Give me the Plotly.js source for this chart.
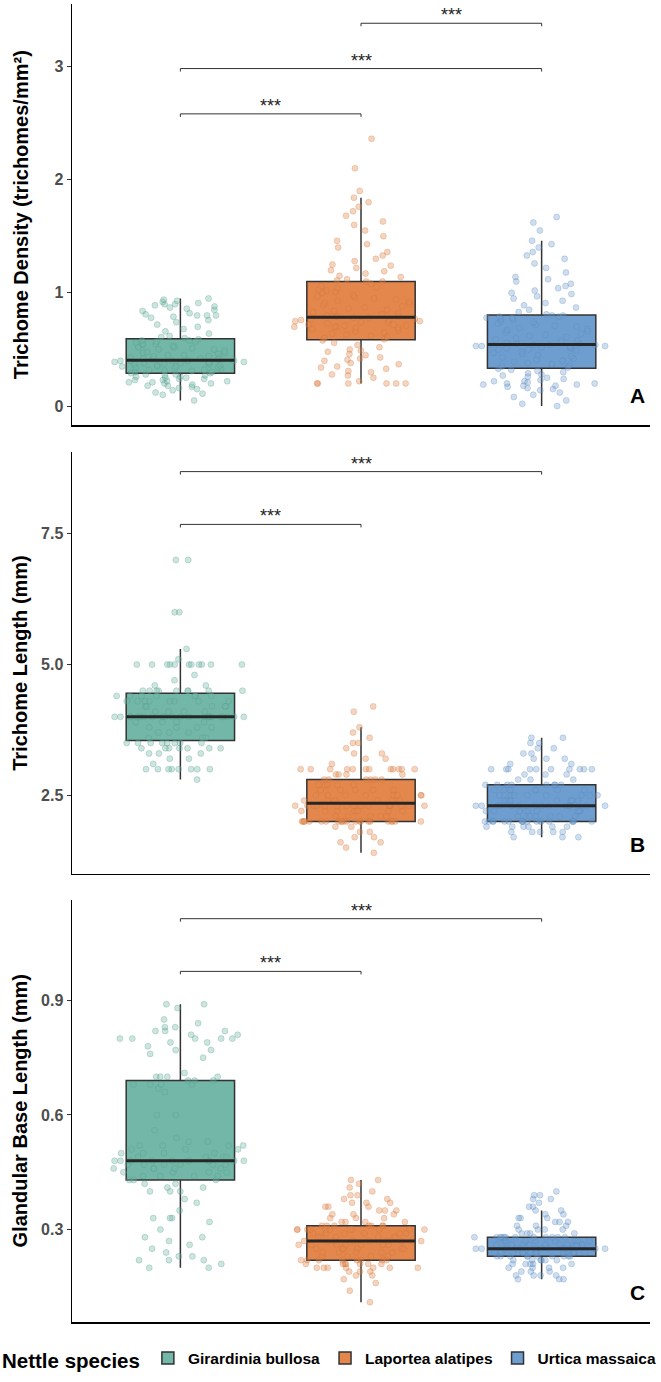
<!DOCTYPE html>
<html>
<head>
<meta charset="utf-8">
<script src="https://cdn.plot.ly/plotly-3.0.1.min.js"></script>
<style>html,body{margin:0;padding:0;background:#fff;}#chart{width:661px;height:1382px;}</style>
</head>
<body>
<div id="chart"></div>
<script>
// ---------- DATA ----------
const species = ["Girardinia bullosa", "Laportea alatipes", "Urtica massaica"];
const panelTitles = ["Trichome Density (trichomes/mm²)", "Trichome Length (mm)", "Glandular Base Length (mm)"];
const panelLetters = ["A", "B", "C"];

// Panel A: trichome density (trichomes/mm²)
const densityGirardinia = [0.05,0.10,0.11,0.12,0.14,0.15,0.16,0.17,0.18,0.18,0.19,0.20,0.20,0.21,0.21,0.22,0.22,0.23,0.23,0.24,0.24,0.25,0.25,0.26,0.26,0.27,0.27,0.28,0.28,0.29,
 0.29,0.30,0.30,0.31,0.31,0.32,0.32,0.33,0.33,0.34,0.34,0.35,0.35,0.35,0.36,0.36,0.37,0.37,0.37,0.38,0.38,0.38,0.39,0.39,0.39,0.40,0.40,0.40,0.40,0.40,
 0.41,0.41,0.42,0.42,0.43,0.43,0.44,0.44,0.45,0.45,0.46,0.47,0.47,0.48,0.49,0.50,0.50,0.51,0.52,0.52,0.53,0.54,0.55,0.55,0.56,0.57,0.57,0.58,0.58,0.59,
 0.60,0.61,0.62,0.64,0.66,0.68,0.70,0.72,0.74,0.76,0.78,0.79,0.80,0.80,0.80,0.81,0.82,0.84,0.85,0.86,0.87,0.88,0.89,0.90,0.90,0.91,0.92,0.93,0.94,0.95];
const densityLaportea = [0.20,0.20,0.20,0.20,0.20,0.20,0.22,0.25,0.27,0.28,0.30,0.31,0.33,0.34,0.35,0.37,0.38,0.40,0.41,0.42,0.43,0.45,0.46,0.48,0.49,0.50,0.52,0.54,0.56,0.58,
 0.59,0.60,0.61,0.62,0.63,0.64,0.65,0.66,0.67,0.68,0.69,0.69,0.70,0.70,0.70,0.71,0.71,0.72,0.72,0.73,0.74,0.74,0.75,0.75,0.76,0.76,0.77,0.77,0.78,0.78,
 0.79,0.79,0.80,0.81,0.82,0.83,0.84,0.85,0.86,0.87,0.88,0.89,0.90,0.91,0.92,0.93,0.94,0.95,0.96,0.97,0.98,1.00,1.01,1.02,1.03,1.04,1.05,1.06,1.08,1.10,
 1.10,1.11,1.12,1.14,1.15,1.17,1.19,1.20,1.22,1.24,1.25,1.28,1.30,1.33,1.36,1.40,1.43,1.46,1.50,1.55,1.60,1.63,1.68,1.72,1.76,1.80,1.84,1.90,2.10,2.36];
const densityUrtica = [0.00,0.02,0.05,0.08,0.10,0.12,0.14,0.15,0.16,0.17,0.18,0.18,0.19,0.19,0.20,0.20,0.21,0.22,0.22,0.23,0.24,0.25,0.26,0.27,0.28,0.29,0.30,0.31,0.32,0.33,
 0.34,0.35,0.36,0.37,0.38,0.39,0.40,0.41,0.42,0.43,0.44,0.45,0.46,0.47,0.48,0.49,0.50,0.50,0.51,0.51,0.52,0.52,0.53,0.53,0.53,0.53,0.54,0.54,0.54,0.54,
 0.55,0.55,0.56,0.57,0.58,0.59,0.60,0.61,0.62,0.63,0.64,0.65,0.66,0.67,0.68,0.69,0.70,0.71,0.72,0.73,0.74,0.75,0.76,0.77,0.78,0.78,0.79,0.79,0.80,0.80,
 0.81,0.83,0.85,0.87,0.89,0.91,0.93,0.95,0.97,0.99,1.00,1.02,1.04,1.06,1.08,1.10,1.12,1.14,1.18,1.22,1.26,1.30,1.33,1.36,1.40,1.43,1.46,1.55,1.62,1.67];

// Panel B: trichome length (mm)
const lengthGirardinia = [2.8,3.0,3.0,3.0,3.0,3.0,3.0,3.0,3.0,3.1,3.2,3.2,3.3,3.3,3.3,3.4,3.4,3.4,3.4,3.4,3.4,3.4,3.5,3.5,3.5,3.5,3.5,3.5,3.5,3.5,
 3.6,3.6,3.6,3.7,3.7,3.7,3.8,3.8,3.8,3.8,3.9,3.9,3.9,3.9,4.0,4.0,4.0,4.0,4.0,4.0,4.0,4.0,4.0,4.0,4.0,4.0,4.0,4.0,4.0,4.0,
 4.0,4.0,4.0,4.0,4.0,4.0,4.1,4.1,4.1,4.1,4.2,4.2,4.2,4.2,4.2,4.3,4.3,4.3,4.3,4.3,4.3,4.3,4.3,4.4,4.4,4.4,4.4,4.4,4.4,4.4,
 4.5,4.5,4.5,4.5,4.5,4.5,4.5,4.5,4.5,4.6,4.6,4.7,4.8,5.0,5.0,5.0,5.0,5.0,5.0,5.0,5.0,5.0,5.0,5.0,5.1,5.3,6.0,6.0,7.0,7.0];
const lengthLaportea = [1.4,1.5,1.6,1.6,1.7,1.7,1.8,1.8,1.9,1.9,2.0,2.0,2.0,2.0,2.0,2.0,2.0,2.0,2.0,2.0,2.0,2.0,2.0,2.0,2.0,2.0,2.0,2.0,2.0,2.0,
 2.0,2.0,2.1,2.1,2.1,2.1,2.1,2.2,2.2,2.2,2.2,2.2,2.2,2.2,2.3,2.3,2.3,2.3,2.3,2.3,2.3,2.3,2.3,2.3,2.3,2.3,2.3,2.3,2.3,2.3,
 2.4,2.4,2.4,2.4,2.4,2.4,2.4,2.5,2.5,2.5,2.5,2.5,2.5,2.5,2.5,2.6,2.6,2.6,2.6,2.6,2.7,2.7,2.7,2.7,2.7,2.8,2.8,2.8,2.8,2.8,
 2.8,2.9,2.9,2.9,2.9,3.0,3.0,3.0,3.0,3.0,3.0,3.0,3.0,3.0,3.0,3.0,3.0,3.1,3.2,3.2,3.3,3.3,3.4,3.5,3.5,3.6,3.7,3.8,4.1,4.2];
const lengthUrtica = [1.7,1.7,1.7,1.8,1.8,1.8,1.8,1.8,1.9,1.9,1.9,1.9,1.9,1.9,2.0,2.0,2.0,2.0,2.0,2.0,2.0,2.0,2.0,2.0,2.0,2.0,2.0,2.0,2.0,2.0,
 2.0,2.0,2.1,2.1,2.1,2.1,2.1,2.1,2.2,2.2,2.2,2.2,2.2,2.2,2.2,2.2,2.2,2.3,2.3,2.3,2.3,2.3,2.3,2.3,2.3,2.3,2.3,2.3,2.3,2.3,
 2.3,2.4,2.4,2.4,2.4,2.4,2.4,2.4,2.5,2.5,2.5,2.5,2.5,2.5,2.5,2.5,2.6,2.6,2.6,2.6,2.6,2.6,2.6,2.7,2.7,2.7,2.7,2.7,2.7,2.7,
 2.7,2.8,2.8,2.8,2.9,2.9,2.9,3.0,3.0,3.0,3.0,3.0,3.0,3.0,3.0,3.0,3.0,3.1,3.1,3.2,3.2,3.2,3.3,3.3,3.4,3.4,3.5,3.5,3.6,3.6];

// Panel C: glandular base length (mm)
const glandGirardinia = [0.20,0.20,0.21,0.22,0.22,0.22,0.23,0.23,0.24,0.25,0.26,0.27,0.28,0.28,0.30,0.32,0.33,0.33,0.33,0.35,0.37,0.38,0.40,0.40,0.40,0.41,0.41,0.42,0.42,0.43,
 0.43,0.43,0.44,0.44,0.44,0.44,0.45,0.45,0.45,0.45,0.46,0.46,0.46,0.46,0.46,0.47,0.47,0.47,0.47,0.47,0.47,0.48,0.48,0.48,0.48,0.48,0.48,0.48,0.48,0.48,
 0.48,0.49,0.49,0.49,0.49,0.50,0.50,0.50,0.50,0.51,0.51,0.51,0.52,0.52,0.52,0.52,0.53,0.53,0.54,0.56,0.60,0.60,0.66,0.67,0.68,0.68,0.68,0.68,0.69,0.69,
 0.69,0.70,0.70,0.70,0.70,0.71,0.75,0.76,0.77,0.77,0.78,0.79,0.79,0.80,0.80,0.80,0.80,0.80,0.81,0.81,0.82,0.82,0.82,0.83,0.83,0.84,0.85,0.88,0.89,0.89];
const glandLaportea = [0.11,0.14,0.16,0.17,0.18,0.18,0.19,0.19,0.19,0.20,0.20,0.20,0.20,0.20,0.20,0.20,0.21,0.21,0.21,0.21,0.21,0.21,0.21,0.22,0.22,0.22,0.22,0.22,0.22,0.22,
 0.22,0.23,0.23,0.23,0.23,0.24,0.24,0.24,0.24,0.24,0.25,0.25,0.25,0.25,0.25,0.25,0.26,0.26,0.26,0.26,0.26,0.26,0.26,0.27,0.27,0.27,0.27,0.27,0.27,0.27,
 0.27,0.27,0.28,0.28,0.28,0.28,0.28,0.28,0.29,0.29,0.29,0.29,0.29,0.29,0.30,0.30,0.30,0.30,0.30,0.30,0.30,0.30,0.30,0.30,0.30,0.31,0.31,0.31,0.31,0.31,
 0.31,0.31,0.32,0.32,0.32,0.32,0.33,0.33,0.33,0.34,0.34,0.34,0.35,0.35,0.35,0.36,0.36,0.36,0.37,0.37,0.37,0.38,0.38,0.39,0.39,0.40,0.41,0.42,0.43,0.43];
const glandUrtica = [0.17,0.17,0.17,0.18,0.18,0.18,0.18,0.19,0.19,0.19,0.20,0.20,0.20,0.20,0.21,0.21,0.21,0.21,0.21,0.22,0.22,0.22,0.22,0.22,0.22,0.23,0.23,0.23,0.23,0.23,
 0.23,0.23,0.23,0.23,0.23,0.24,0.24,0.24,0.24,0.24,0.24,0.24,0.24,0.24,0.24,0.24,0.24,0.25,0.25,0.25,0.25,0.25,0.25,0.25,0.25,0.25,0.25,0.25,0.25,0.25,
 0.25,0.25,0.26,0.26,0.26,0.26,0.26,0.26,0.26,0.26,0.26,0.27,0.27,0.27,0.27,0.27,0.27,0.27,0.27,0.28,0.28,0.28,0.28,0.28,0.28,0.28,0.28,0.28,0.28,0.28,
 0.28,0.29,0.29,0.29,0.29,0.30,0.30,0.30,0.30,0.31,0.31,0.31,0.32,0.32,0.32,0.33,0.33,0.33,0.34,0.34,0.35,0.35,0.36,0.36,0.37,0.38,0.38,0.39,0.39,0.40];

// Significance brackets: panel index, from species index, to species index, height, label
const sigPanel = [0, 0, 0, 1, 1, 2, 2];
const sigFrom  = [0, 0, 1, 0, 0, 0, 0];
const sigTo    = [1, 2, 2, 1, 2, 1, 2];
const sigY     = [2.58, 2.98, 3.38, 7.68, 8.69, 0.976, 1.114];
const sigLabel = ["***", "***", "***", "***", "***", "***", "***"];

// ---------- STYLE ----------
const panelData = [
  [densityGirardinia, densityLaportea, densityUrtica],
  [lengthGirardinia, lengthLaportea, lengthUrtica],
  [glandGirardinia, glandLaportea, glandUrtica]
];
const boxFill = ["#72B7A7", "#E4874C", "#6E9ECF"];
const pointFill = ["rgba(114,183,167,0.36)", "rgba(228,135,76,0.36)", "rgba(110,158,207,0.34)"];
const pointLine = ["rgba(80,150,134,0.35)", "rgba(200,110,60,0.30)", "rgba(85,130,180,0.32)"];
const yRanges = [[-0.17, 3.55], [1.0, 9.06], [0.058, 1.164]];
const yDomains = [[0.6803, 1], [0.3401, 0.6599], [0, 0.3205]];
const yTicks = [[0, 1, 2, 3], [2.5, 5.0, 7.5], [0.3, 0.6, 0.9]];
const yFormats = ["d", ".1f", ".1f"];
const FONT = "Liberation Sans, Arial, Helvetica, sans-serif";
const BOXW = 0.6;

function median(arr) {
  const s = arr.slice().sort((a, b) => a - b);
  const n = s.length;
  return n % 2 ? s[(n - 1) / 2] : (s[n / 2 - 1] + s[n / 2]) / 2;
}

const traces = [];
const shapes = [];
const annotations = [];
const layout = {
  width: 661, height: 1382,
  margin: {l: 68, r: 11, t: 4, b: 55},
  paper_bgcolor: "#fff", plot_bgcolor: "#fff",
  font: {family: FONT, color: "#000"},
  boxmode: "overlay",
  showlegend: true,
  legend: {
    orientation: "h", x: -0.1186, xanchor: "left", y: -0.0287, yanchor: "middle",
    title: {text: "Nettle species", font: {size: 20.5, weight: "bold", color: "#000"}, side: "left"},
    font: {size: 15.5, weight: "bold", color: "#000"},
    itemwidth: 30, bgcolor: "rgba(0,0,0,0)", traceorder: "normal"
  }
};

for (let p = 0; p < 3; p++) {
  const sfx = p === 0 ? "" : String(p + 1);
  const xa = "x" + sfx, ya = "y" + sfx;
  layout["xaxis" + sfx] = {
    anchor: ya, domain: [0, 1], type: "category", categoryorder: "array", categoryarray: species,
    range: [-0.6, 2.6], showticklabels: false, ticks: "", showgrid: false, zeroline: false,
    showline: true, linecolor: "#000", linewidth: 1.5, fixedrange: true
  };
  layout["yaxis" + sfx] = {
    anchor: xa, domain: yDomains[p], range: yRanges[p], tickvals: yTicks[p], tickformat: yFormats[p],
    showgrid: false, zeroline: false, showline: true, linecolor: "#000", linewidth: 1.5,
    ticks: "outside", ticklen: 4, tickwidth: 1, tickcolor: "#333",
    tickfont: {size: 16, weight: "bold", color: "#4D4D4D"},
    title: {text: panelTitles[p], font: {size: 20, weight: "bold", color: "#000"}, standoff: p === 0 ? 20 : 8},
    fixedrange: true
  };
  for (let s = 0; s < 3; s++) {
    const vals = panelData[p][s];
    const xs = vals.map(() => species[s]);
    // box (Tukey whiskers; outlier markers hidden because every point is drawn by the swarm trace)
    traces.push({
      type: "box", x: xs, y: vals, xaxis: xa, yaxis: ya, name: species[s], legendgroup: species[s],
      showlegend: p === 0, boxpoints: "outliers", width: BOXW, whiskerwidth: 0,
      marker: {opacity: 0, size: 1},
      fillcolor: boxFill[s], line: {color: "#333", width: 1.5}, hoverinfo: "skip"
    });
    // points (beeswarm-like jitter)
    traces.push({
      type: "box", x: xs, y: vals, xaxis: xa, yaxis: ya, name: species[s], legendgroup: species[s],
      showlegend: false, boxpoints: "all", jitter: 1, pointpos: 0, width: 0.75,
      fillcolor: "rgba(0,0,0,0)", line: {color: "rgba(0,0,0,0)", width: 0}, whiskerwidth: 0,
      marker: {size: 6, color: pointFill[s], line: {color: pointLine[s], width: 0.8}}, hoverinfo: "y"
    });
    // thick median line
    const m = median(vals);
    shapes.push({type: "line", xref: xa, yref: ya, x0: s - BOXW / 2, x1: s + BOXW / 2, y0: m, y1: m,
      line: {color: "#262626", width: 3}, layer: "above"});
  }
  annotations.push({
    xref: xa + " domain", yref: ya + " domain", x: 0.978, y: 0.07, xanchor: "center", yanchor: "middle",
    text: panelLetters[p], showarrow: false, font: {size: 21, weight: "bold", color: "#000"}
  });
}

for (let i = 0; i < sigY.length; i++) {
  const p = sigPanel[i];
  const sfx = p === 0 ? "" : String(p + 1);
  const xa = "x" + sfx, ya = "y" + sfx;
  const ln = {color: "#333", width: 1};
  shapes.push({type: "line", xref: xa, yref: ya, x0: sigFrom[i], x1: sigTo[i], y0: sigY[i], y1: sigY[i], line: ln});
  [sigFrom[i], sigTo[i]].forEach(xv => shapes.push({
    type: "line", xref: xa, yref: ya, x0: xv, x1: xv, ysizemode: "pixel", yanchor: sigY[i], y0: 0, y1: -3, line: ln
  }));
  annotations.push({
    xref: xa, yref: ya, x: (sigFrom[i] + sigTo[i]) / 2, y: sigY[i], yanchor: "bottom", xanchor: "center",
    text: sigLabel[i], showarrow: false, yshift: -4, font: {size: 18, color: "#222"}
  });
}

layout.shapes = shapes;
layout.annotations = annotations;

Plotly.newPlot("chart", traces, layout, {staticPlot: true, displayModeBar: false});
</script>
</body>
</html>
